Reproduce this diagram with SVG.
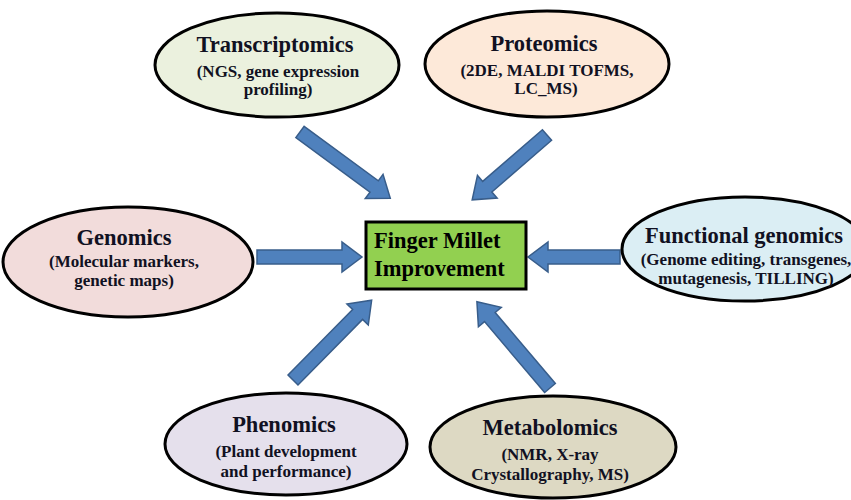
<svg xmlns="http://www.w3.org/2000/svg" width="851" height="500" viewBox="0 0 851 500">
<style>
.node ellipse{stroke:#000;stroke-width:3}
text{font-family:'Liberation Serif','Times New Roman',serif;font-weight:bold}
.t{fill:#111122;text-anchor:middle}
.h{font-size:22.5px}
.s{font-size:17px}
.arrow{fill:#4F81BD;stroke:#385D8A;stroke-width:1.5;stroke-linejoin:miter}
</style>
<rect width="851" height="500" fill="#fff"/>
<g id="connectors">
<path class="arrow" transform="translate(257,257)" d="M0,-7 H85 V-15 L105,0 L85,15 V7 H0 Z"/>
<path class="arrow" transform="translate(620,257) rotate(180)" d="M0,-7 H72 V-15 L92,0 L72,15 V7 H0 Z"/>
<path class="arrow" transform="translate(300,132) rotate(36.3)" d="M0,-7 H92 V-15 L112,0 L92,15 V7 H0 Z"/>
<path class="arrow" transform="translate(547,135) rotate(139.1)" d="M0,-7 H79 V-15 L99,0 L79,15 V7 H0 Z"/>
<path class="arrow" transform="translate(293,380) rotate(-45.4)" d="M0,-7 H92 V-15 L112,0 L92,15 V7 H0 Z"/>
<path class="arrow" transform="translate(550,388) rotate(-130.3)" d="M0,-7 H93 V-15 L113,0 L93,15 V7 H0 Z"/>
</g>
<g id="transcriptomics" class="node">
<ellipse cx="277" cy="65" rx="122" ry="52" fill="#EBF1DE"/>
<text class="t h" x="275" y="52">Transcriptomics</text>
<text class="t s" x="278" y="77">(NGS,  gene expression</text>
<text class="t s" x="278" y="95">profiling)</text>
</g>
<g id="proteomics" class="node">
<ellipse cx="547" cy="64" rx="122" ry="53" fill="#FDE9D9"/>
<text class="t h" x="544" y="51">Proteomics</text>
<text class="t s" x="547" y="76">(2DE, MALDI TOFMS,</text>
<text class="t s" x="546" y="94">LC_MS)</text>
</g>
<g id="genomics" class="node">
<ellipse cx="128" cy="262" rx="125" ry="55" fill="#F2DCDB"/>
<text class="t h" x="124" y="245">Genomics</text>
<text class="t s" x="124" y="267">(Molecular markers,</text>
<text class="t s" x="124" y="286">genetic maps)</text>
</g>
<g id="functional-genomics" class="node">
<ellipse cx="745" cy="249" rx="123" ry="52" fill="#DBEEF4"/>
<text class="t h" x="744" y="243">Functional genomics</text>
<text class="t s" x="746" y="265">(Genome editing, transgenes,</text>
<text class="t s" x="746" y="284">mutagenesis, TILLING)</text>
</g>
<g id="phenomics" class="node">
<ellipse cx="286" cy="444" rx="121" ry="51" fill="#E5E0EC"/>
<text class="t h" x="284" y="432">Phenomics</text>
<text class="t s" x="286" y="457">(Plant  development</text>
<text class="t s" x="286" y="477">and performance)</text>
</g>
<g id="metabolomics" class="node">
<ellipse cx="553" cy="447" rx="123" ry="51" fill="#DDD9C3"/>
<text class="t h" x="550" y="435">Metabolomics</text>
<text class="t s" x="550" y="460">(NMR, X-ray</text>
<text class="t s" x="550" y="480">Crystallography, MS)</text>
</g>
<g id="finger-millet">
<rect x="366" y="222" width="160" height="67" fill="#92D050" stroke="#000" stroke-width="3"/>
<text x="374" y="248" font-size="22.5" fill="#000">Finger Millet</text>
<text x="374" y="276" font-size="22.5" fill="#000">Improvement</text>
</g>
</svg>
